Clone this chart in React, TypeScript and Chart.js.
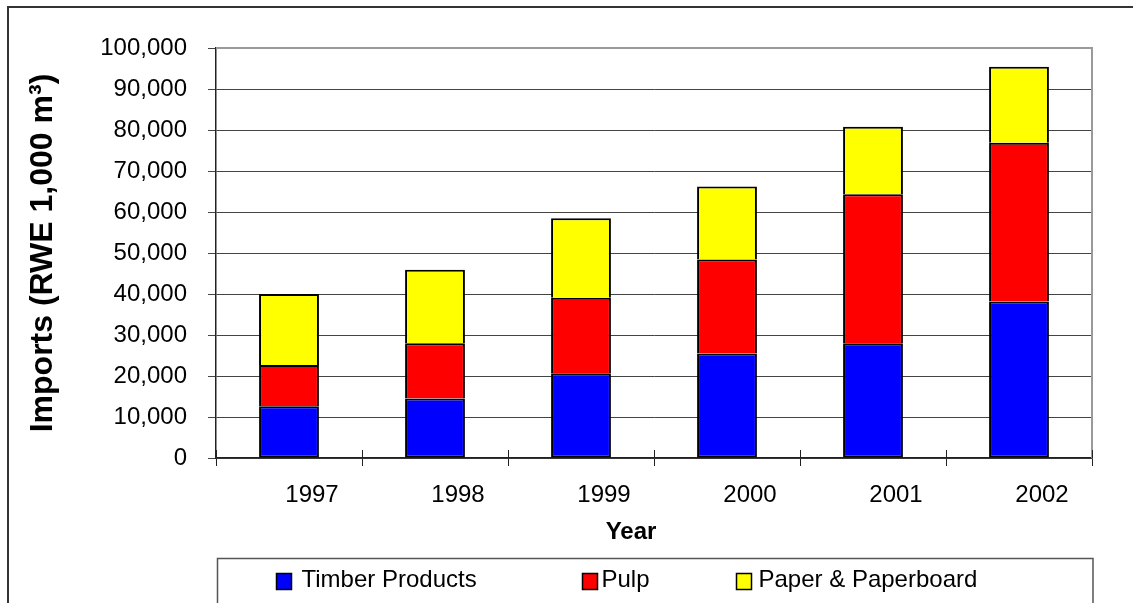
import React, { useEffect, useRef } from "react";
import { Chart, registerables } from "chart.js";

Chart.register(...registerables);

// ---- data ----
const categories = ["1997", "1998", "1999", "2000", "2001", "2002"];
const timberProducts = [12600, 14500, 20700, 25500, 28000, 38200];
const pulp = [10100, 13500, 18400, 22900, 36300, 38700];
const paperAndPaperboard = [17300, 17900, 19400, 17800, 16500, 18500];
const seriesLabels = ["Timber Products", "Pulp", "Paper & Paperboard"];
const seriesColors = ["#0000FF", "#FF0000", "#FFFF00"];
const yAxisTitle = "Imports (RWE 1,000 m\u00B3)";
const xAxisTitle = "Year";
const yMin = 0;
const yMax = 100000;
const yStep = 10000;

// ---- style constants ----
const FONT = "'Liberation Sans', Arial, Helvetica, sans-serif";
const LABEL_SHIFT = 23;
const LEGEND_BOX_X = [59, 365, 519];
const LEGEND_TEXT_X = [84, 384, 541];

const decorPlugin = {
  id: "decor",
  beforeDraw(chart: any) {
    const ctx = chart.ctx;
    ctx.save();
    ctx.fillStyle = "#fff";
    ctx.fillRect(0, 0, chart.width, chart.height);
    ctx.strokeStyle = "#333";
    ctx.lineWidth = 2;
    ctx.beginPath();
    ctx.moveTo(8, chart.height + 5);
    ctx.lineTo(8, 7);
    ctx.lineTo(chart.width + 5, 7);
    ctx.stroke();
    ctx.restore();
  },
  afterDraw(chart: any) {
    const ctx = chart.ctx;
    const a = chart.chartArea;
    ctx.save();
    // plot outline (top/right)
    ctx.strokeStyle = "#9a9a9a";
    ctx.lineWidth = 2;
    ctx.beginPath();
    ctx.moveTo(a.left, a.top);
    ctx.lineTo(a.right, a.top);
    ctx.lineTo(a.right, a.bottom);
    ctx.stroke();
    // inner halves of x tick marks
    const n = chart.data.labels.length;
    ctx.strokeStyle = "#222";
    ctx.lineWidth = 1;
    for (let i = 0; i <= n; i++) {
      const x = Math.round(a.left + (i * (a.right - a.left)) / n) + 0.5;
      ctx.beginPath();
      ctx.moveTo(x, a.bottom - 8);
      ctx.lineTo(x, a.bottom);
      ctx.stroke();
    }
    // x axis title
    ctx.fillStyle = "#000";
    ctx.font = `bold 24px ${FONT}`;
    ctx.textAlign = "center";
    ctx.textBaseline = "alphabetic";
    ctx.fillText(xAxisTitle, (a.left + a.right) / 2 - LABEL_SHIFT, a.bottom + 81);
    // legend
    const lx = a.left + 1.5;
    const ly = a.bottom + 100.5;
    ctx.strokeStyle = "#555";
    ctx.lineWidth = 1.5;
    ctx.strokeRect(lx, ly, a.right + 1 - lx, 120);
    ctx.font = `24px ${FONT}`;
    ctx.textAlign = "left";
    chart.data.datasets.forEach((ds: any, i: number) => {
      const bx = lx + LEGEND_BOX_X[i];
      ctx.fillStyle = ds.backgroundColor;
      ctx.fillRect(bx, ly + 15, 15, 16);
      ctx.strokeStyle = "#000";
      ctx.lineWidth = 1.5;
      ctx.strokeRect(bx, ly + 15, 15, 16);
      ctx.fillStyle = "#000";
      ctx.fillText(ds.label, lx + LEGEND_TEXT_X[i], ly + 28);
    });
    ctx.restore();
  },
};

export default function App() {
  const ref = useRef<HTMLCanvasElement | null>(null);

  useEffect(() => {
    if (!ref.current) return;
    const series = [timberProducts, pulp, paperAndPaperboard];
    const chart = new Chart(ref.current, {
      type: "bar",
      data: {
        labels: categories,
        datasets: series.map((d, i) => ({
          label: seriesLabels[i],
          data: d,
          backgroundColor: seriesColors[i],
          borderColor: "#000",
          borderWidth: { top: 2, left: 2, right: 2, bottom: i === 0 ? 2 : 0 },
          borderSkipped: false,
          barPercentage: 0.41,
          categoryPercentage: 1,
        })),
      },
      options: {
        responsive: false,
        animation: false,
        devicePixelRatio: 1,
        layout: { padding: { top: 48, right: 41, left: 0, bottom: 0 } },
        plugins: {
          legend: { display: false },
          tooltip: { enabled: false },
          title: { display: false },
        },
        scales: {
          x: {
            stacked: true,
            offset: true,
            grid: {
              display: true,
              drawOnChartArea: false,
              drawTicks: true,
              tickLength: 8,
              color: "#222",
              lineWidth: 1,
              offset: true,
            },
            border: { display: true, color: "#222", width: 1.5 },
            ticks: {
              color: "#000",
              font: { family: FONT, size: 24 },
              padding: 15,
              labelOffset: LABEL_SHIFT,
              maxRotation: 0,
              autoSkip: false,
            },
            afterFit: (s: any) => {
              s.height = 145;
            },
          },
          y: {
            stacked: true,
            min: yMin,
            max: yMax,
            ticks: {
              stepSize: yStep,
              color: "#000",
              font: { family: FONT, size: 24 },
              padding: 21,
              callback: (v: any) => Number(v).toLocaleString("en-US"),
            },
            grid: { color: "#444", lineWidth: 1, tickLength: 8, drawTicks: true },
            border: { color: "#222", width: 1.5 },
            title: {
              display: true,
              text: yAxisTitle,
              color: "#000",
              font: { family: FONT, size: 32, weight: "bold" },
              padding: { top: 24, bottom: 0 },
            },
            afterFit: (s: any) => {
              s.width = 216;
            },
          },
        },
      } as any,
      plugins: [decorPlugin],
    });
    return () => chart.destroy();
  }, []);

  return (
    <div style={{ position: "absolute", left: 0, top: 0, width: 1133, height: 603, overflow: "hidden" }}>
      <canvas ref={ref} width={1133} height={603} />
    </div>
  );
}
